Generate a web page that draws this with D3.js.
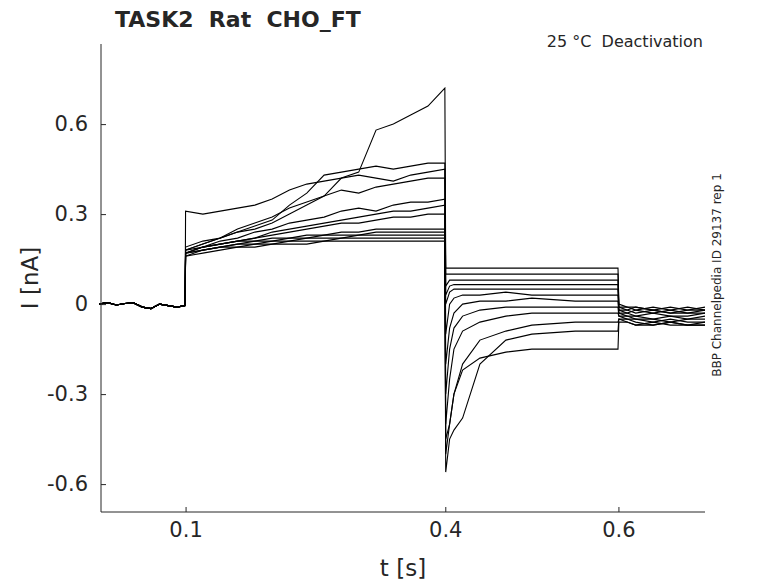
<!DOCTYPE html>
<meta charset="UTF-8">
<head>
<title>TASK2 Rat CHO_FT</title>
<style>
body { margin: 0; background: #fff; }
text { font-family: "DejaVu Sans", sans-serif; fill: #262626; }
.trace { fill: none; stroke: #000; stroke-width: 1.1px; }
.axis path, .axis line { stroke: #262626; }
</style>
</head>
<body>
<script src="https://d3js.org/d3.v7.min.js"></script>
<script>

// time grids (s) for each protocol segment
var preTimes   = [0, 0.01, 0.02, 0.03, 0.04, 0.05, 0.06, 0.07, 0.08, 0.09, 0.0995];
var pulseTimes = [0.1, 0.12, 0.14, 0.16, 0.18, 0.2, 0.22, 0.24, 0.26, 0.28, 0.3, 0.32, 0.34, 0.36, 0.38, 0.3995];
var tailTimes  = [0.4005, 0.405, 0.41, 0.42, 0.44, 0.47, 0.5, 0.55, 0.5995];
var postTimes  = [0.6005, 0.61, 0.62, 0.64, 0.66, 0.68, 0.7];

// holding current before the pulse (nA), shared by every sweep
var preValues = [0, 0.005, -0.003, 0.002, 0.004, -0.01, -0.015, 0.0, -0.005, -0.01, -0.005];

// current during the 0.1-0.4 s pulse (nA), one row per sweep
var pulseValues = [
  [0.18,0.20,0.22,0.24,0.25,0.27,0.30,0.33,0.36,0.42,0.44,0.58,0.60,0.63,0.66,0.72],
  [0.19,0.21,0.22,0.24,0.26,0.28,0.33,0.37,0.43,0.44,0.45,0.46,0.45,0.46,0.47,0.47],
  [0.31,0.30,0.31,0.32,0.33,0.35,0.38,0.40,0.41,0.42,0.43,0.42,0.41,0.43,0.44,0.45],
  [0.18,0.20,0.22,0.25,0.27,0.29,0.32,0.34,0.36,0.38,0.37,0.39,0.40,0.41,0.42,0.42],
  [0.18,0.19,0.21,0.22,0.24,0.25,0.27,0.28,0.29,0.31,0.32,0.31,0.33,0.34,0.34,0.35],
  [0.17,0.19,0.20,0.21,0.22,0.24,0.25,0.26,0.27,0.28,0.29,0.30,0.31,0.31,0.32,0.33],
  [0.17,0.19,0.20,0.21,0.22,0.23,0.24,0.25,0.26,0.27,0.27,0.28,0.29,0.29,0.30,0.30],
  [0.17,0.19,0.20,0.21,0.21,0.22,0.22,0.23,0.23,0.24,0.24,0.25,0.25,0.25,0.25,0.25],
  [0.17,0.18,0.19,0.20,0.21,0.21,0.22,0.22,0.23,0.23,0.23,0.24,0.24,0.24,0.24,0.24],
  [0.17,0.18,0.19,0.20,0.20,0.21,0.21,0.22,0.22,0.22,0.23,0.23,0.23,0.23,0.23,0.23],
  [0.16,0.18,0.19,0.19,0.20,0.20,0.21,0.21,0.21,0.22,0.22,0.22,0.22,0.22,0.22,0.22],
  [0.16,0.17,0.18,0.19,0.19,0.20,0.20,0.20,0.21,0.21,0.21,0.21,0.21,0.21,0.21,0.21]
];

// tail current after stepping to the deactivation potential (nA)
var tailValues = [
  [0.12,0.12,0.12,0.12,0.12,0.12,0.12,0.12,0.12],
  [0.10,0.10,0.10,0.10,0.10,0.10,0.10,0.10,0.10],
  [0.06,0.08,0.08,0.08,0.08,0.08,0.08,0.08,0.08],
  [0.03,0.06,0.065,0.065,0.065,0.065,0.065,0.065,0.065],
  [0.0,0.04,0.05,0.05,0.05,0.05,0.05,0.05,0.05],
  [-0.10,0.0,0.02,0.03,0.03,0.04,0.03,0.03,0.03],
  [-0.20,-0.08,-0.03,0.0,0.01,0.01,0.02,0.01,0.01],
  [-0.30,-0.15,-0.08,-0.04,-0.02,-0.01,-0.01,-0.01,-0.01],
  [-0.40,-0.25,-0.15,-0.09,-0.06,-0.04,-0.03,-0.03,-0.03],
  [-0.50,-0.40,-0.30,-0.20,-0.12,-0.09,-0.07,-0.06,-0.06],
  [-0.56,-0.45,-0.42,-0.38,-0.20,-0.12,-0.10,-0.09,-0.09],
  [-0.45,-0.40,-0.30,-0.22,-0.18,-0.16,-0.15,-0.15,-0.15]
];

// current after returning to holding (nA)
var postValues = [
  [0.0,-0.01,-0.01,-0.02,-0.01,-0.02,-0.01],
  [-0.01,-0.01,-0.02,-0.01,-0.02,-0.01,-0.02],
  [-0.01,-0.02,-0.01,-0.02,-0.03,-0.02,-0.02],
  [-0.02,-0.02,-0.03,-0.02,-0.03,-0.03,-0.02],
  [-0.02,-0.03,-0.02,-0.03,-0.02,-0.03,-0.03],
  [-0.03,-0.03,-0.04,-0.03,-0.04,-0.04,-0.03],
  [-0.03,-0.04,-0.04,-0.05,-0.04,-0.05,-0.04],
  [-0.04,-0.04,-0.05,-0.05,-0.06,-0.05,-0.05],
  [-0.04,-0.05,-0.05,-0.06,-0.05,-0.06,-0.06],
  [-0.05,-0.05,-0.06,-0.07,-0.06,-0.07,-0.06],
  [-0.05,-0.06,-0.07,-0.06,-0.07,-0.07,-0.07],
  [-0.06,-0.06,-0.07,-0.07,-0.06,-0.07,-0.07]
];

var xTicks = [0.1, 0.4, 0.6];
var yTicks = [-0.6, -0.3, 0, 0.3, 0.6];

var W = 778, H = 583;
var x = d3.scaleLinear().domain([0, 0.7]).range([99, 705]);
var y = d3.scaleLinear().domain([-0.693, 0.867]).range([512, 44]);

var svg = d3.select("body").append("svg").attr("width", W).attr("height", H);

var line = d3.line().x(function(d) { return x(d[0]); }).y(function(d) { return y(d[1]); });

function zip(ts, vs) { return ts.map(function(t, i) { return [t, vs[i]]; }); }

pulseValues.forEach(function(p, k) {
  var pts = zip(preTimes, preValues)
    .concat(zip(pulseTimes, p))
    .concat(zip(tailTimes, tailValues[k]))
    .concat(zip(postTimes, postValues[k]));
  svg.append("path").attr("class", "trace").attr("d", line(pts));
});

function fmt(d) { return d === 0 ? "0" : d.toFixed(1); }

// axes
svg.append("g").attr("class", "axis")
    .attr("transform", "translate(0,512)")
    .call(d3.axisBottom(x).tickValues(xTicks).tickSize(-5).tickSizeOuter(0).tickPadding(10).tickFormat(fmt))
    .call(function(g) { g.select(".domain").remove(); g.selectAll("text").attr("font-size", 21); });
svg.append("line").attr("x1", 101).attr("x2", 705).attr("y1", 512).attr("y2", 512).attr("stroke", "#262626");

svg.append("g").attr("class", "axis")
    .attr("transform", "translate(101,0)")
    .call(d3.axisLeft(y).tickValues(yTicks).tickSize(-5).tickPadding(13).tickFormat(fmt))
    .call(function(g) { g.select(".domain").remove(); g.selectAll("text").attr("font-size", 21); });
svg.append("line").attr("x1", 101).attr("x2", 101).attr("y1", 44).attr("y2", 512).attr("stroke", "#262626");

// labels
svg.append("text").attr("x", 403).attr("y", 576).attr("text-anchor", "middle")
    .attr("font-size", 23).text("t [s]");
svg.append("text").attr("transform", "translate(38,278) rotate(-90)").attr("text-anchor", "middle")
    .attr("font-size", 23).text("I [nA]");
svg.append("text").attr("x", 115).attr("y", 27).attr("font-size", 22).attr("font-weight", "bold")
    .attr("fill", "#000").style("white-space", "pre").text("TASK2  Rat  CHO_FT");
svg.append("text").attr("x", 703).attr("y", 47).attr("text-anchor", "end").attr("font-size", 16)
    .style("white-space", "pre").text("25 °C  Deactivation");
svg.append("text").attr("transform", "translate(721,275) rotate(-90)").attr("text-anchor", "middle")
    .attr("font-size", 12).text("BBP Channelpedia ID 29137 rep 1");

</script>
</body>
</html>
